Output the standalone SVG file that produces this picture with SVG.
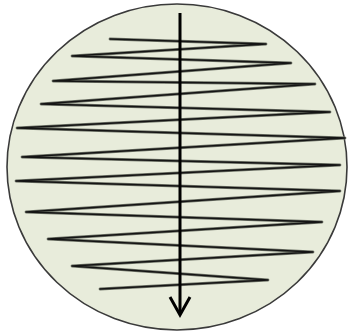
<svg xmlns="http://www.w3.org/2000/svg" width="348" height="333" viewBox="0 0 348 333">
  <defs>
    <style>
      .disc { fill: #e8ecdb; stroke: #3a3a3a; stroke-width: 1.6; }
      .zig-shade { fill: none; stroke: #6f7468; stroke-width: 2.8; stroke-linejoin: round; stroke-linecap: round; }
      .zig { fill: none; stroke: #141414; stroke-width: 1.3; stroke-linejoin: round; stroke-linecap: round; }
      .axis { fill: none; stroke: #000; stroke-width: 3; }
    </style>
  </defs>
  <rect width="348" height="333" fill="#fff"/>
  <ellipse class="disc" cx="177" cy="167" rx="170" ry="163"/>
  <g id="helix">
    <polyline class="zig-shade" points="110,39 266,44 72,56 291,63 53,81 315,84 41,104 330,112 17,128 345,138 22,157 340,165 16,181 340,191 26,212 322,222 48,239 313,252 72,266 268,280 100,289"/>
    <polyline class="zig" points="110,39 266,44 72,56 291,63 53,81 315,84 41,104 330,112 17,128 345,138 22,157 340,165 16,181 340,191 26,212 322,222 48,239 313,252 72,266 268,280 100,289"/>
  </g>
  <g id="connectors">
    <line class="axis" x1="180" y1="13" x2="180" y2="314"/>
    <polyline points="170,297 180,315 190,297" fill="none" stroke="#000" stroke-width="3" stroke-linejoin="miter"/>
  </g>
</svg>
